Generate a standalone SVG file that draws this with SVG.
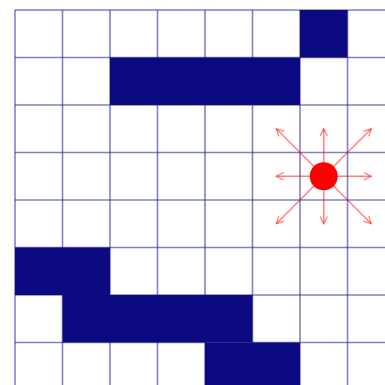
<svg xmlns="http://www.w3.org/2000/svg" width="385" height="385" viewBox="0 0 385 385">
<defs>
<style>
.cell{fill:#0c0a80;}
.grid line{stroke:#1a1a99;stroke-opacity:0.55;stroke-width:1.6;}
.arr line{stroke:#ff0000;stroke-opacity:0.5;stroke-width:1.5;}
</style>
<marker id="ah" viewBox="0 0 10 10" refX="9" refY="5" markerWidth="9" markerHeight="9" markerUnits="userSpaceOnUse" orient="auto">
<path d="M1,1 L9,5 L1,9" fill="none" stroke="#ff0000" stroke-opacity="0.5" stroke-width="1.4"/>
</marker>
</defs>
<rect width="385" height="385" fill="#ffffff"/>
<g id="grid" class="grid">
<line x1="15" y1="10" x2="15" y2="385"/>
<line x1="62.5" y1="10" x2="62.5" y2="385"/>
<line x1="110" y1="10" x2="110" y2="385"/>
<line x1="157.5" y1="10" x2="157.5" y2="385"/>
<line x1="205" y1="10" x2="205" y2="385"/>
<line x1="252.5" y1="10" x2="252.5" y2="385"/>
<line x1="300" y1="10" x2="300" y2="385"/>
<line x1="347.5" y1="10" x2="347.5" y2="385"/>
<line x1="15" y1="10" x2="385" y2="10"/>
<line x1="15" y1="57.5" x2="385" y2="57.5"/>
<line x1="15" y1="105" x2="385" y2="105"/>
<line x1="15" y1="152.5" x2="385" y2="152.5"/>
<line x1="15" y1="200" x2="385" y2="200"/>
<line x1="15" y1="247.5" x2="385" y2="247.5"/>
<line x1="15" y1="295" x2="385" y2="295"/>
<line x1="15" y1="342.5" x2="385" y2="342.5"/>
</g>
<g id="cells">
<rect class="cell" x="300" y="10" width="47.5" height="47.5"/>
<rect class="cell" x="110" y="57.5" width="190" height="47.5"/>
<rect class="cell" x="15" y="247.5" width="95" height="47.5"/>
<rect class="cell" x="62.5" y="295" width="190" height="47.5"/>
<rect class="cell" x="205" y="342.5" width="95" height="47.5"/>
</g>
<g id="connectors" class="arr">
<line x1="323.75" y1="176.25" x2="371.25" y2="176.25" marker-end="url(#ah)"/>
<line x1="323.75" y1="176.25" x2="276.25" y2="176.25" marker-end="url(#ah)"/>
<line x1="323.75" y1="176.25" x2="323.75" y2="128.75" marker-end="url(#ah)"/>
<line x1="323.75" y1="176.25" x2="323.75" y2="223.75" marker-end="url(#ah)"/>
<line x1="323.75" y1="176.25" x2="371.25" y2="128.75" marker-end="url(#ah)"/>
<line x1="323.75" y1="176.25" x2="276.25" y2="128.75" marker-end="url(#ah)"/>
<line x1="323.75" y1="176.25" x2="371.25" y2="223.75" marker-end="url(#ah)"/>
<line x1="323.75" y1="176.25" x2="276.25" y2="223.75" marker-end="url(#ah)"/>
</g>
<g id="agent">
<circle cx="323.75" cy="176.25" r="14" fill="#ff0000"/>
</g>
</svg>
